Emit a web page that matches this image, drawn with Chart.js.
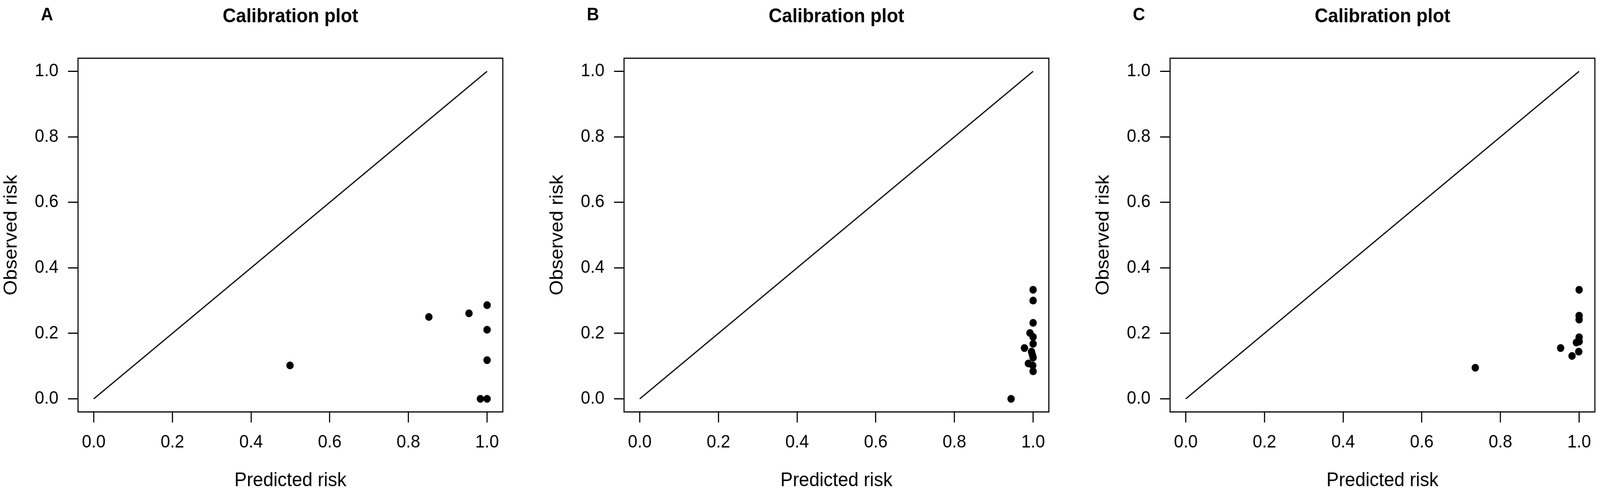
<!DOCTYPE html>
<html>
<head>
<meta charset="utf-8">
<script src="https://cdn.jsdelivr.net/npm/chart.js@4/dist/chart.umd.min.js"></script>
<style>
  html, body { margin: 0; padding: 0; background: #fff; overflow: hidden; }
  #wrap { position: absolute; left: 0; top: 0; width: 4328px; height: 1264px; overflow: hidden;
          background: #fff; transform-origin: 0 0; }
  canvas { position: absolute; top: 0; }
  .letter { position: absolute; top: 13px; width: 60px; text-align: center;
            font: bold 46px "Liberation Sans", Arial, sans-serif; line-height: 46px; color: #000; }
</style>
</head>
<body>
<div id="wrap"></div>
<script>
// values
const tickVals = [0, 0.2, 0.4, 0.6, 0.8, 1.0];
const identityX = [0, 1];
const identityY = [0, 1];

const predA = [0.499, 0.852, 0.954, 1.0, 1.0, 1.0, 0.983, 1.0];
const obsA  = [0.102, 0.250, 0.261, 0.286, 0.211, 0.118, 0.0, 0.0];

const predB = [1.0, 1.0, 1.0, 0.992, 1.0, 1.0, 0.978, 0.996, 1.0, 0.998, 0.988, 0.999, 1.0, 0.944];
const obsB  = [0.333, 0.300, 0.232, 0.201, 0.189, 0.168, 0.155, 0.144, 0.126, 0.135, 0.108, 0.102, 0.084, 0.0];

const predC = [0.736, 0.953, 0.982, 0.999, 0.993, 1.0, 1.0, 1.0, 1.0, 1.0];
const obsC  = [0.095, 0.155, 0.131, 0.144, 0.172, 0.175, 0.188, 0.242, 0.254, 0.333];

const letters = ['A', 'B', 'C'];
const titleText = 'Calibration plot';
const xTitle = 'Predicted risk';
const yTitle = 'Observed risk';

const FONT = '"Liberation Sans", Arial, Helvetica, sans-serif';

// fit the 4328x1264 page into whatever the viewport really is
const wrap = document.getElementById('wrap');
const sx = window.innerWidth / 4328, sy = window.innerHeight / 1264;
if (Math.abs(sx - 1) > 0.002 || Math.abs(sy - 1) > 0.002) {
  wrap.style.transform = 'scale(' + sx + ',' + sy + ')';
}

// box round the plot region, like R's box()
const boxPlugin = {
  id: 'plotBox',
  afterDraw(chart) {
    const a = chart.chartArea, ctx = chart.ctx;
    ctx.save();
    ctx.strokeStyle = '#000';
    ctx.lineWidth = 3;
    ctx.strokeRect(a.left, a.top, a.right - a.left, a.bottom - a.top);
    ctx.restore();
  }
};

function toPoints(xs, ys) {
  return xs.map((x, i) => ({ x: x, y: ys[i] }));
}

function axis(title, isX) {
  return {
    type: 'linear',
    min: -0.04,
    max: 1.04,
    afterBuildTicks: s => { s.ticks = tickVals.map(v => ({ value: v })); },
    afterFit: s => { if (isX) s.height = 210; else s.width = 211; },
    ticks: {
      color: '#000',
      font: { family: FONT, size: 46 },
      padding: isX ? 24 : 26,
      maxRotation: 0,
      autoSkip: false,
      callback: v => Number(v).toFixed(1)
    },
    grid: {
      drawOnChartArea: false,
      drawTicks: true,
      tickLength: 27,
      tickWidth: 3,
      tickColor: '#000'
    },
    border: { display: false },
    title: {
      display: true,
      text: title,
      color: '#000',
      font: { family: FONT, size: 50, lineHeight: 1 },
      padding: isX ? { top: 0, bottom: 9 } : { top: 6, bottom: 0 }
    }
  };
}

const series = [[predA, obsA], [predB, obsB], [predC, obsC]];
const panelStep = 1477;
const canvasW = 1374;

series.forEach((s, i) => {
  const cv = document.createElement('canvas');
  cv.width = canvasW;
  cv.height = 1264;
  cv.style.left = (i * panelStep) + 'px';
  cv.style.width = canvasW + 'px';
  cv.style.height = '1264px';
  wrap.appendChild(cv);

  const lab = document.createElement('div');
  lab.className = 'letter';
  lab.textContent = letters[i];
  lab.style.left = (127 + i * panelStep - 30) + 'px';
  wrap.appendChild(lab);

  new Chart(cv, {
    type: 'scatter',
    data: {
      datasets: [
        {
          data: toPoints(identityX, identityY),
          showLine: true,
          borderColor: '#000',
          borderWidth: 3,
          pointRadius: 0,
          fill: false
        },
        {
          data: toPoints(s[0], s[1]),
          backgroundColor: '#000',
          borderWidth: 0,
          pointRadius: 10
        }
      ]
    },
    options: {
      responsive: false,
      animation: false,
      devicePixelRatio: 1,
      layout: { padding: { left: 0, right: 12, top: 0, bottom: 0 } },
      plugins: {
        legend: { display: false },
        tooltip: { enabled: false },
        title: {
          display: true,
          fullSize: false,
          text: titleText,
          color: '#000',
          font: { family: FONT, size: 50, weight: 'bold', lineHeight: 1 },
          padding: { top: 18, bottom: 81 }
        }
      },
      scales: {
        x: axis(xTitle, true),
        y: axis(yTitle, false)
      }
    },
    plugins: [boxPlugin]
  });
});
</script>
</body>
</html>
